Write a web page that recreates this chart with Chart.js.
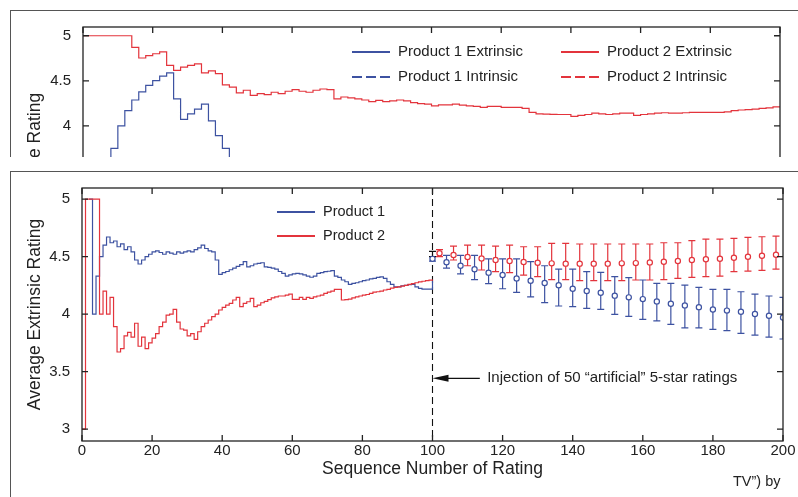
<!DOCTYPE html>
<html>
<head>
<meta charset="utf-8">
<title>Average rating sequences</title>
<script src="https://cdn.jsdelivr.net/npm/chart.js@4.4.1/dist/chart.umd.min.js"></script>
<style>
  html, body { margin: 0; padding: 0; background: #fff; }
  body { position: relative; width: 798px; height: 497px; overflow: hidden; font-family: 'Liberation Sans', Arial, sans-serif; }
  .wrap { position: absolute; left: 0; top: 0; overflow: hidden; }
  .wrap canvas { position: absolute; left: 0; top: 0; }
  .rule { position: absolute; background: #555; }
  #caption { position: absolute; left: 733px; top: 473px; font-size: 14.5px; line-height: 17px; color: #222; white-space: nowrap; }
</style>
</head>
<body>
<div class="wrap" style="width:798px;height:497px"><canvas id="bottomChart" width="798" height="497"></canvas></div>
<div class="wrap" style="width:798px;height:157px"><canvas id="topChart" width="798" height="300"></canvas></div>
<div class="rule" style="left:10px;top:10px;width:788px;height:1px"></div>
<div class="rule" style="left:10px;top:10px;width:1px;height:147px"></div>
<div class="rule" style="left:10px;top:171px;width:788px;height:1px"></div>
<div class="rule" style="left:10px;top:171px;width:1px;height:326px"></div>
<div id="caption">TV”) by</div>

<script>
const FONT = "'Liberation Sans', Arial, Helvetica, sans-serif";
const BLUE = '#3d52a1';
const RED = '#e3343c';

const xTicks = [0, 20, 40, 60, 80, 100, 120, 140, 160, 180, 200];
const yTicksTop = [2.5, 3, 3.5, 4, 4.5, 5];
const yTicksBottom = [3, 3.5, 4, 4.5, 5];

// top panel (cut off in the picture): one step every 2 ratings
const topStep = 2;
const topRedExtrinsic = [
  5, 5, 5, 5, 5, 5, 5,
  4.87, 4.753, 4.78, 4.80, 4.82,
  4.67, 4.616, 4.652, 4.67, 4.688,
  4.588, 4.61, 4.58, 4.455, 4.43,
  4.366, 4.395, 4.337, 4.358, 4.347,
  4.373, 4.358, 4.384, 4.402, 4.384,
  4.373, 4.395, 4.409, 4.402, 4.30,
  4.32, 4.31, 4.30, 4.287, 4.269,
  4.283, 4.269, 4.276, 4.287, 4.276,
  4.258, 4.247, 4.24, 4.222, 4.233,
  4.233, 4.24, 4.23, 4.222, 4.215,
  4.204, 4.215, 4.215, 4.204, 4.204,
  4.204, 4.194, 4.15, 4.132, 4.13,
  4.128, 4.126, 4.126, 4.104, 4.115,
  4.126, 4.14, 4.132, 4.126, 4.132,
  4.14, 4.14, 4.115, 4.126, 4.132,
  4.14, 4.145, 4.14, 4.14, 4.145,
  4.15, 4.15, 4.15, 4.15, 4.15,
  4.155, 4.168, 4.176, 4.18, 4.186,
  4.194, 4.20, 4.211, 4.211
];
const topBlueStart = 6;
const topBlueExtrinsic = [
  3.5, 3.749, 4.0, 4.169, 4.287, 4.376, 4.448, 4.502, 4.552, 4.588,
  4.30, 4.072, 4.133, 4.186, 4.24, 4.054, 3.892, 3.749, 3.5
];

// bottom panel: running average after each rating (1..100)
const p1Start = 2;
const p1Avg = [
  5.0, 4.0, 4.33, 4.5, 4.6, 4.67, 4.62, 4.635, 4.585, 4.61,
  4.56, 4.585, 4.54, 4.47, 4.435, 4.47, 4.50, 4.52, 4.54, 4.55,
  4.535, 4.52, 4.54, 4.53, 4.52, 4.54, 4.53, 4.54, 4.55, 4.54,
  4.56, 4.575, 4.60, 4.57, 4.55, 4.54, 4.47, 4.345, 4.36, 4.37,
  4.385, 4.40, 4.415, 4.43, 4.455, 4.41, 4.42, 4.435, 4.44, 4.446,
  4.41, 4.405, 4.40, 4.39, 4.37, 4.354, 4.33, 4.34, 4.35, 4.354,
  4.35, 4.34, 4.33, 4.32, 4.33, 4.354, 4.36, 4.368, 4.372, 4.377,
  4.33, 4.319, 4.296, 4.281, 4.258, 4.267, 4.272, 4.281, 4.29, 4.296,
  4.305, 4.31, 4.318, 4.324, 4.31, 4.281, 4.258, 4.237, 4.237, 4.246,
  4.25, 4.255, 4.258, 4.237, 4.223, 4.217, 4.217, 4.217, 4.29
];
const p2Start = 0;
const p2Avg = [
  3.0, 5.0, 5.0, 5.0, 5.0, 4.0, 4.2, 4.0, 4.145, 3.89,
  3.67, 3.70, 3.81, 3.84, 3.80, 3.92, 3.72, 3.80, 3.70, 3.75,
  3.79, 3.83, 3.89, 3.93, 3.99, 4.0, 4.04, 3.93, 3.87, 3.86,
  3.81, 3.83, 3.78, 3.846, 3.89, 3.92, 3.948, 3.977, 4.0, 4.035,
  4.058, 4.078, 4.093, 4.122, 4.145, 4.064, 4.093, 4.107, 4.136, 4.064,
  4.078, 4.098, 4.11, 4.125, 4.14, 4.15, 4.157, 4.157, 4.165, 4.174,
  4.128, 4.128, 4.145, 4.128, 4.145, 4.136, 4.15, 4.157, 4.165, 4.18,
  4.19, 4.20, 4.215, 4.215, 4.122, 4.125, 4.13, 4.14, 4.15, 4.157,
  4.165, 4.17, 4.18, 4.19, 4.194, 4.20, 4.209, 4.215, 4.225, 4.232,
  4.237, 4.243, 4.25, 4.258, 4.265, 4.272, 4.28, 4.285, 4.29, 4.295, 4.30
];

// after the injection: mean with error bars
const p1ErrX = [100, 104, 108, 112, 116, 120, 124, 128, 132, 136, 140, 144, 148, 152, 156, 160, 164, 168, 172, 176, 180, 184, 188, 192, 196, 200];
const p1ErrMean = [4.48, 4.45, 4.42, 4.39, 4.36, 4.34, 4.31, 4.29, 4.27, 4.25, 4.22, 4.20, 4.185, 4.16, 4.145, 4.13, 4.11, 4.09, 4.075, 4.06, 4.04, 4.03, 4.02, 4.0, 3.985, 3.97];
const p1ErrHigh = [4.50, 4.51, 4.51, 4.51, 4.48, 4.48, 4.48, 4.455, 4.42, 4.39, 4.39, 4.368, 4.362, 4.325, 4.316, 4.296, 4.267, 4.267, 4.252, 4.232, 4.215, 4.215, 4.194, 4.174, 4.157, 4.145];
const p1ErrLow = [4.46, 4.40, 4.35, 4.30, 4.264, 4.22, 4.189, 4.15, 4.10, 4.07, 4.064, 4.05, 4.04, 3.997, 3.98, 3.954, 3.94, 3.91, 3.88, 3.88, 3.867, 3.855, 3.832, 3.817, 3.80, 3.783];

const p2ErrX = [102, 106, 110, 114, 118, 122, 126, 130, 134, 138, 142, 146, 150, 154, 158, 162, 166, 170, 174, 178, 182, 186, 190, 194, 198];
const p2ErrMean = [4.528, 4.513, 4.496, 4.484, 4.47, 4.461, 4.452, 4.446, 4.441, 4.438, 4.438, 4.438, 4.438, 4.441, 4.443, 4.449, 4.455, 4.461, 4.47, 4.476, 4.481, 4.49, 4.498, 4.507, 4.516];
const p2ErrHigh = [4.56, 4.591, 4.60, 4.60, 4.591, 4.60, 4.585, 4.585, 4.615, 4.615, 4.609, 4.609, 4.609, 4.609, 4.609, 4.609, 4.62, 4.62, 4.638, 4.652, 4.652, 4.658, 4.667, 4.672, 4.678];
const p2ErrLow = [4.50, 4.47, 4.42, 4.383, 4.368, 4.36, 4.339, 4.325, 4.30, 4.30, 4.29, 4.29, 4.29, 4.29, 4.296, 4.296, 4.30, 4.31, 4.319, 4.325, 4.33, 4.368, 4.374, 4.38, 4.391];

const startX = [100];
const startLow = [4.50];
const startHigh = [4.545];

Chart.defaults.font.family = FONT;
Chart.defaults.color = '#222';

// matlab style box with inward ticks on all four sides
const matlabBox = {
  id: 'matlabBox',
  afterDraw(chart, args, opts) {
    const { ctx, chartArea: a, scales: { x, y } } = chart;
    ctx.save();
    ctx.strokeStyle = '#222';
    ctx.lineWidth = 1.3;
    ctx.strokeRect(a.left, a.top, a.right - a.left, a.bottom - a.top);
    ctx.beginPath();
    opts.xTicks.forEach(v => {
      const px = x.getPixelForValue(v);
      ctx.moveTo(px, a.bottom); ctx.lineTo(px, a.bottom - 6);
      ctx.moveTo(px, a.top); ctx.lineTo(px, a.top + 6);
    });
    opts.yTicks.forEach(v => {
      const py = y.getPixelForValue(v);
      ctx.moveTo(a.left, py); ctx.lineTo(a.left + 6, py);
      ctx.moveTo(a.right, py); ctx.lineTo(a.right - 6, py);
    });
    ctx.stroke();
    ctx.restore();
  }
};

const panelLegend = {
  id: 'panelLegend',
  afterDraw(chart, args, opts) {
    const ctx = chart.ctx;
    ctx.save();
    ctx.font = opts.fontSize + 'px ' + FONT;
    ctx.textBaseline = 'middle';
    opts.items.forEach(it => {
      ctx.strokeStyle = it.color;
      ctx.lineWidth = 2;
      ctx.setLineDash(it.dashed ? [10, 4] : []);
      ctx.beginPath();
      ctx.moveTo(it.x, it.y);
      ctx.lineTo(it.x + opts.lineLength, it.y);
      ctx.stroke();
      ctx.fillStyle = '#222';
      ctx.fillText(it.text, it.x + opts.lineLength + opts.gap, it.y);
    });
    ctx.restore();
  }
};

const errorBars = {
  id: 'errorBars',
  beforeDatasetsDraw(chart, args, opts) {
    const { ctx, chartArea: a, scales: { x, y } } = chart;
    ctx.save();
    ctx.beginPath();
    ctx.rect(a.left, a.top, a.right - a.left, a.bottom - a.top);
    ctx.clip();
    ctx.lineWidth = 1.2;
    opts.groups.forEach(g => {
      ctx.strokeStyle = g.color;
      ctx.beginPath();
      g.x.forEach((xv, i) => {
        const px = x.getPixelForValue(xv);
        const lo = y.getPixelForValue(g.lo[i]);
        const hi = y.getPixelForValue(g.hi[i]);
        ctx.moveTo(px, lo); ctx.lineTo(px, hi);
        ctx.moveTo(px - 3.5, lo); ctx.lineTo(px + 3.5, lo);
        ctx.moveTo(px - 3.5, hi); ctx.lineTo(px + 3.5, hi);
      });
      ctx.stroke();
    });
    ctx.restore();
  }
};

const injectionNote = {
  id: 'injectionNote',
  beforeDatasetsDraw(chart, args, o) {
    const { ctx, chartArea: a, scales: { x, y } } = chart;
    const px = x.getPixelForValue(o.x);
    const py = y.getPixelForValue(o.y);
    ctx.save();
    ctx.strokeStyle = '#111';
    ctx.lineWidth = 1.1;
    ctx.setLineDash([7, 4]);
    ctx.beginPath();
    ctx.moveTo(px, a.top); ctx.lineTo(px, a.bottom);
    ctx.stroke();
    ctx.setLineDash([]);
    ctx.beginPath();
    ctx.moveTo(px + 12, py); ctx.lineTo(x.getPixelForValue(o.tailX), py);
    ctx.stroke();
    ctx.fillStyle = '#111';
    ctx.beginPath();
    ctx.moveTo(px, py); ctx.lineTo(px + 16, py - 3.5); ctx.lineTo(px + 16, py + 3.5);
    ctx.closePath();
    ctx.fill();
    ctx.font = '15px ' + FONT;
    ctx.textBaseline = 'middle';
    ctx.fillStyle = '#222';
    ctx.fillText(o.text, x.getPixelForValue(o.labelX), py);
    ctx.restore();
  }
};

function stepLine(label, xs, ys, color) {
  return {
    label, data: ys.map((v, i) => ({ x: xs[i], y: v })),
    borderColor: color, borderWidth: 1.2, stepped: true,
    pointRadius: 0, fill: false
  };
}

function markers(label, xs, ys, color) {
  return {
    label, data: ys.map((v, i) => ({ x: xs[i], y: v })),
    showLine: false, borderColor: color, pointRadius: 2.6, pointBorderWidth: 1.2,
    pointBackgroundColor: '#fff', pointBorderColor: color
  };
}

function yAxis(min, max, ticks, width, title) {
  return {
    min, max,
    afterBuildTicks: s => { s.ticks = ticks.map(v => ({ value: v })); },
    afterFit: s => { s.width = width; },
    grid: { display: false, drawTicks: false },
    border: { display: false },
    ticks: { font: { size: 15 }, color: '#222', padding: 12, callback: v => String(v) },
    title: { display: true, text: title, font: { size: 17.5 }, color: '#222', padding: { top: 25, bottom: 0 } }
  };
}

// top panel
new Chart(document.getElementById('topChart'), {
  type: 'line',
  data: {
    datasets: [
      stepLine('Product 2 Extrinsic', topRedExtrinsic.map((v, i) => i * topStep), topRedExtrinsic, RED),
      stepLine('Product 1 Extrinsic', topBlueExtrinsic.map((v, i) => topBlueStart + i * topStep), topBlueExtrinsic, BLUE)
    ]
  },
  options: {
    responsive: false, animation: false, devicePixelRatio: 1,
    layout: { padding: { top: 27, right: 18, bottom: 13, left: 0 } },
    plugins: {
      legend: { display: false }, tooltip: { enabled: false },
      matlabBox: { xTicks: xTicks, yTicks: yTicksTop },
      panelLegend: {
        fontSize: 15, lineLength: 38, gap: 8,
        items: [
          { text: 'Product 1 Extrinsic', color: BLUE, dashed: false, x: 352, y: 52 },
          { text: 'Product 1 Intrinsic', color: BLUE, dashed: true, x: 352, y: 77 },
          { text: 'Product 2 Extrinsic', color: RED, dashed: false, x: 561, y: 52 },
          { text: 'Product 2 Intrinsic', color: RED, dashed: true, x: 561, y: 77 }
        ]
      }
    },
    scales: {
      x: {
        type: 'linear', min: 0, max: 200,
        afterBuildTicks: s => { s.ticks = xTicks.map(v => ({ value: v })); },
        afterFit: s => { s.height = 0; },
        grid: { display: false, drawTicks: false }, border: { display: false },
        ticks: { display: false }
      },
      y: yAxis(2.3, 5.097, yTicksTop, 83, 'Average Rating')
    }
  },
  plugins: [matlabBox, panelLegend]
});

// bottom panel
new Chart(document.getElementById('bottomChart'), {
  type: 'line',
  data: {
    datasets: [
      markers('Product 2 mean', p2ErrX, p2ErrMean, RED),
      markers('Product 1 mean', p1ErrX, p1ErrMean, BLUE),
      stepLine('Product 2', p2Avg.map((v, i) => p2Start + i), p2Avg, RED),
      stepLine('Product 1', p1Avg.map((v, i) => p1Start + i), p1Avg, BLUE)
    ]
  },
  options: {
    responsive: false, animation: false, devicePixelRatio: 1,
    layout: { padding: { top: 188, right: 15, bottom: 0, left: 0 } },
    plugins: {
      legend: { display: false }, tooltip: { enabled: false },
      matlabBox: { xTicks: xTicks, yTicks: yTicksBottom },
      errorBars: {
        groups: [
          { x: p1ErrX, lo: p1ErrLow, hi: p1ErrHigh, color: BLUE },
          { x: p2ErrX, lo: p2ErrLow, hi: p2ErrHigh, color: RED },
          { x: startX, lo: startLow, hi: startHigh, color: '#111' }
        ]
      },
      injectionNote: { x: 100, y: 3.441, tailX: 113.5, labelX: 115.6, text: 'Injection of 50 “artificial” 5-star ratings' },
      panelLegend: {
        fontSize: 14.5, lineLength: 38, gap: 8,
        items: [
          { text: 'Product 1', color: BLUE, dashed: false, x: 277, y: 212 },
          { text: 'Product 2', color: RED, dashed: false, x: 277, y: 236 }
        ]
      }
    },
    scales: {
      x: {
        type: 'linear', min: 0, max: 200,
        afterBuildTicks: s => { s.ticks = xTicks.map(v => ({ value: v })); },
        afterFit: s => { s.height = 56; },
        grid: { display: false, drawTicks: false }, border: { display: false },
        ticks: { font: { size: 15 }, color: '#222', padding: 1, maxRotation: 0, autoSkip: false },
        title: { display: true, text: 'Sequence Number of Rating', font: { size: 17.5 }, color: '#222', padding: { top: 0, bottom: 17 } }
      },
      y: yAxis(2.896, 5.096, yTicksBottom, 82, 'Average Extrinsic Rating')
    }
  },
  plugins: [errorBars, injectionNote, matlabBox, panelLegend]
});
</script>
</body>
</html>
